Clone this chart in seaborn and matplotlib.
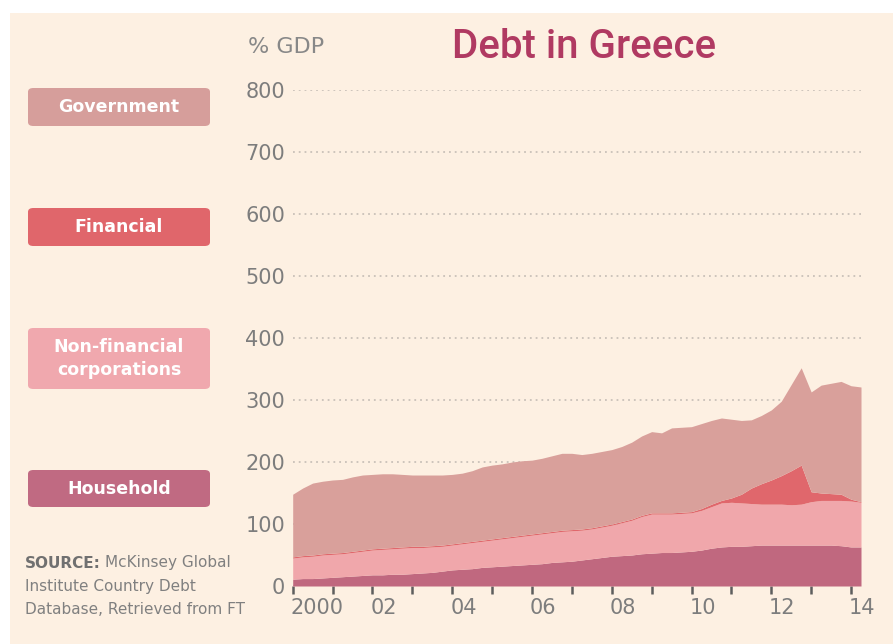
import numpy as np
import pandas as pd
import matplotlib
matplotlib.use("Agg")
import matplotlib.pyplot as plt
import matplotlib.transforms as mtrans
from matplotlib.patches import FancyBboxPatch, Rectangle
import seaborn as sns

# ---------------- data (% of GDP, quarterly, 2000Q1 .. 2014Q2) ----------------
quarters = [2000 + 0.25 * i for i in range(58)]
household = [11, 12, 12, 13, 14, 15, 16, 17, 18, 18, 19, 19, 20, 21, 22, 24,
             26, 27, 28, 30, 31, 32, 33, 34, 35, 36, 38, 39, 40, 42, 44, 46,
             48, 49, 50, 52, 53, 54, 54, 55, 56, 58, 61, 63, 64, 64, 65, 66,
             66, 66, 66, 66, 66, 66, 66, 65, 63, 63]
non_financial = [34, 35, 36, 37, 37, 37, 38, 39, 40, 41, 41, 42, 42, 41, 41, 40,
                 40, 41, 42, 42, 43, 44, 45, 46, 47, 48, 48, 49, 49, 48, 48, 49,
                 50, 53, 56, 60, 63, 62, 62, 62, 62, 64, 67, 71, 71, 70, 68, 66,
                 66, 66, 65, 66, 70, 72, 72, 73, 74, 72]
financial = [2, 2, 2, 2, 2, 2, 2, 2, 2, 2, 2, 2, 2, 2, 2, 2,
             2, 2, 2, 2, 2, 2, 2, 2, 2, 2, 2, 2, 2, 2, 2, 2,
             2, 2, 2, 2, 2, 2, 2, 2, 2, 3, 4, 4, 7, 14, 25, 33,
             39, 46, 55, 63, 16, 12, 11, 10, 3, 1]
government = [101, 109, 116, 117, 118, 118, 120, 121, 120, 120, 119, 117, 115, 115, 114, 113,
              112, 112, 114, 118, 119, 119, 120, 120, 119, 120, 122, 124, 123, 120, 120, 120,
              120, 121, 124, 128, 131, 129, 137, 137, 137, 137, 135, 133, 127, 119, 110, 110,
              113, 120, 139, 157, 161, 174, 178, 182, 183, 185]

series_colors = ["#C0687F", "#F0A7AB", "#E0676C", "#D9A09B"]
legend_colors = ["#C06A82", "#F0A8AE", "#E0666B", "#D69E9B"]

y_ticks = [0, 100, 200, 300, 400, 500, 600, 700, 800]
x_tick_years = list(range(2000, 2015))
x_tick_labels = ["2000", "", "02", "", "04", "", "06", "", "08", "", "10", "", "12", "", "14"]

df = pd.DataFrame({"quarter": quarters, "Household": household,
                   "Non-financial": non_financial, "Financial": financial,
                   "Government": government})

# ---------------- style ----------------
BG = "#FDF0E2"
GREY = "#7d7d7d"
sns.set_theme(style="white")
plt.rcParams["font.family"] = ["DejaVu Sans"]

W, H = 893, 644
fig = plt.figure(figsize=(W / 100, H / 100), dpi=100, facecolor="white")

def fx(px):
    return px / W

def fy(py):
    return 1 - py / H

# cream background with white border at top/left
fig.patches.append(Rectangle((fx(10), 0), 1 - fx(10), fy(12.5), transform=fig.transFigure,
                             facecolor=BG, edgecolor="none", zorder=-10))

ax = fig.add_axes([fx(292.7), fy(586), fx(861) - fx(292.7), fy(90) - fy(586)])
ax.set_facecolor("none")

ax.stackplot(df["quarter"], df["Household"], df["Non-financial"], df["Financial"],
             df["Government"], colors=series_colors, linewidth=0, zorder=3)

ax.set_xlim(2000, 2014.25)
ax.set_ylim(0, 800)
for s in ax.spines.values():
    s.set_visible(False)

ax.set_yticks(y_ticks)
ax.set_yticklabels([str(v) for v in y_ticks])
ax.tick_params(axis="y", length=0, pad=5.5, labelsize=15, labelcolor=GREY)
ax.yaxis.grid(True, linestyle=(0, (1, 2.2)), color="#c9c1b9", linewidth=1.3, zorder=0)
ax.xaxis.grid(False)
ax.set_axisbelow(True)

ax.set_xticks(x_tick_years)
ax.set_xticklabels(x_tick_labels)
ax.tick_params(axis="x", length=5.5, width=1.8, color="#5e5e5e", direction="out",
               pad=3.5, labelsize=15, labelcolor=GREY, bottom=True)
offset = mtrans.ScaledTranslation(-1.5 / 72, 0, fig.dpi_scale_trans)
for lab in ax.get_xticklabels():
    lab.set_horizontalalignment("left")
    lab.set_transform(lab.get_transform() + offset)

ax.set_xlabel("")
ax.set_ylabel("")

# ---------------- titles ----------------
fig.text(fx(248), fy(53), "% GDP", fontsize=16, color="#888888", ha="left", va="baseline")
fig.text(fx(584), fy(58), "Debt in Greece", fontsize=29, color="#B03A62",
         family=["Roboto", "DejaVu Sans"], fontweight="medium",
         ha="center", va="baseline")

# ---------------- legend boxes ----------------
boxes = [(88, 126, "Government", legend_colors[3]),
         (208, 246, "Financial", legend_colors[2]),
         (328, 389, "Non-financial\ncorporations", legend_colors[1]),
         (470, 507, "Household", legend_colors[0])]
for top, bot, label, col in boxes:
    x0, x1 = 28, 210
    p = FancyBboxPatch((fx(x0), fy(bot)), fx(x1) - fx(x0), fy(top) - fy(bot),
                       boxstyle="round,pad=0,rounding_size=0.006",
                       transform=fig.transFigure, facecolor=col, edgecolor="none")
    fig.patches.append(p)
    fig.text(fx((x0 + x1) / 2), fy((top + bot) / 2), label, color="white",
             fontsize=12.5, fontweight="bold", ha="center", va="center",
             linespacing=1.3)

# ---------------- source ----------------
t_src = fig.text(fx(25), fy(563), "SOURCE:", fontsize=11, fontweight="bold",
                 color="#707070", ha="left", va="center")
fig.canvas.draw()
bb = t_src.get_window_extent()
fig.text(bb.x1 / W + fx(4), fy(563), "McKinsey Global", fontsize=11,
         color="#808080", ha="left", va="center")
fig.text(fx(25), fy(587), "Institute Country Debt", fontsize=11,
         color="#808080", ha="left", va="center")
fig.text(fx(25), fy(610), "Database, Retrieved from FT", fontsize=11,
         color="#808080", ha="left", va="center")

fig.savefig("out.png", dpi=100, facecolor="white")
